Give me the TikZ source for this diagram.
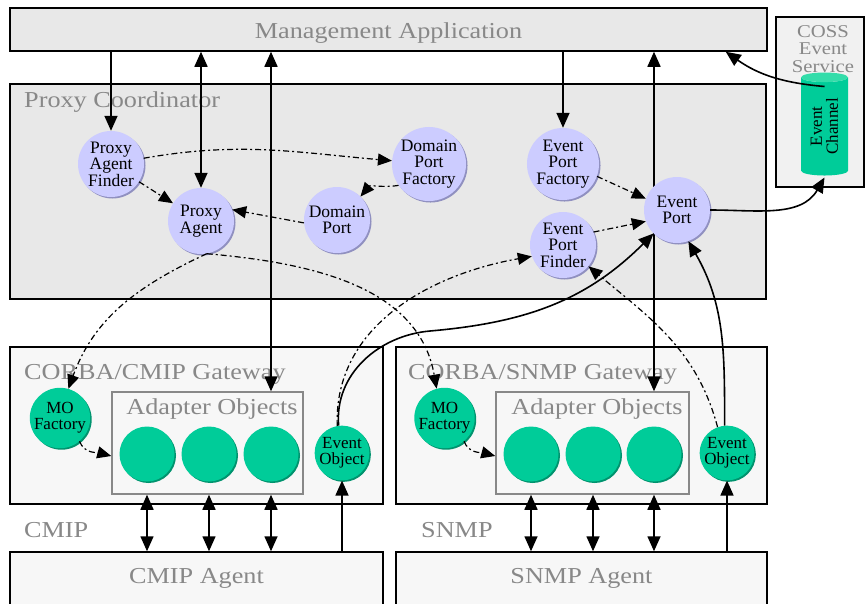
\documentclass[tikz,border=0pt]{standalone}
\usepackage{fontspec}
\setmainfont{Liberation Serif}
\newfontfamily\widefont[FakeStretch=1.15]{Liberation Serif}
\usetikzlibrary{arrows.meta,shapes.geometric,shadows}

\definecolor{objlav}{HTML}{CCCCFF}
\definecolor{objlavdark}{HTML}{9090C0}
\definecolor{mogreen}{HTML}{00CC99}
\definecolor{mogreendark}{HTML}{00936E}
\definecolor{mogreenlight}{HTML}{33DDAA}
\definecolor{panelgrey}{HTML}{E8E8E8}
\definecolor{panellight}{HTML}{F7F7F7}
\definecolor{labelgrey}{HTML}{888888}

\begin{document}
\begin{tikzpicture}[x=1pt,y=1pt,
  lavobj/.style={circle,fill=objlav,minimum size=66,inner sep=0,align=center,
    font=\fontsize{17.5}{16.5}\selectfont,
    drop shadow={shadow xshift=1.5pt,shadow yshift=-1.5pt,fill=objlavdark,opacity=1}},
  greenobj/.style={circle,fill=mogreen,minimum size=54,inner sep=0,align=center,
    font=\fontsize{17}{16}\selectfont,
    drop shadow={shadow xshift=1.5pt,shadow yshift=-1.5pt,fill=mogreendark,opacity=1}},
  panel/.style={draw,line width=1.5,fill=panelgrey,inner sep=0},
  greylabel/.style={text=labelgrey,inner sep=0,font=\widefont\fontsize{22.8}{22}\selectfont},
  callarrow/.style={line width=1.6,-{Triangle[length=15pt,width=13pt]}},
  twoarrow/.style={line width=1.6,{Triangle[length=15pt,width=13pt]}-{Triangle[length=15pt,width=13pt]}},
  lookuparrow/.style={line width=1.2,dash pattern=on 6pt off 3pt on 2pt off 3pt,-{Triangle[length=14pt,width=12pt]}}]

\useasboundingbox (0,0) rectangle (865,-603);

%Application and coordinator
\node[panel,minimum width=757,minimum height=43] (mgmt) at (388.5,-29.5) {};
\node[greylabel,anchor=base] at (388.5,-38) {Management Application};
\node[panel,minimum width=756,minimum height=215] (pcoord) at (388,-191.5) {};
\node[greylabel,anchor=base west] at (24,-107) {Proxy Coordinator};

%COSS side
\node[panel,fill=panelgrey!60,minimum width=88,minimum height=170] (coss) at (820,-102) {};
\node[greylabel,font=\widefont\fontsize{18}{17.5}\selectfont,align=center,anchor=north] at (823,-25) {COSS\\Event\\Service};
\node[cylinder,rotate=90,minimum width=47,minimum height=103,aspect=0.35,inner sep=0,
  cylinder uses custom fill,cylinder end fill=mogreenlight,cylinder body fill=mogreen,
  align=center,font=\fontsize{17}{16}\selectfont] (chan) at (824.5,-126.5) {Event\\Channel};

%Gateways
\node[panel,fill=panellight,minimum width=373,minimum height=157] (cmipgw) at (196.5,-425.5) {};
\node[greylabel,anchor=base west] at (24,-379) {CORBA/CMIP Gateway};
\node[panel,fill=panellight,draw=labelgrey,minimum width=191,minimum height=102] (cmipad) at (207.5,-443) {};
\node[greylabel,anchor=base] at (212,-414) {Adapter Objects};

\node[panel,fill=panellight,minimum width=371,minimum height=157] (snmpgw) at (581.5,-425.5) {};
\node[greylabel,anchor=base west] at (408,-379) {CORBA/SNMP Gateway};
\node[panel,fill=panellight,draw=labelgrey,minimum width=193,minimum height=102] (snmpad) at (592.5,-443) {};
\node[greylabel,anchor=base] at (597,-414) {Adapter Objects};

%Agents
\node[greylabel,anchor=base west] at (24,-537) {CMIP};
\node[greylabel,anchor=base west] at (421,-537) {SNMP};
\node[panel,fill=panellight,minimum width=373,minimum height=70] (cmipag) at (196.5,-587) {};
\node[greylabel,anchor=base] at (196.5,-583) {CMIP Agent};
\node[panel,fill=panellight,minimum width=371,minimum height=70] (snmpag) at (581.5,-587) {};
\node[greylabel,anchor=base] at (581.5,-583) {SNMP Agent};

%Managed objects
\node[greenobj] (cmipmo) at (60,-418) {MO\\Factory};
\foreach \x [count=\i] in {147,209,271}
  \node[greenobj,minimum size=55] (cmipa\i) at (\x,-454) {};
\node[greenobj] (cmipev) at (342,-453) {Event\\Object};

\node[greenobj] (snmpmo) at (444.5,-418) {MO\\Factory};
\foreach \x [count=\i] in {531,593,654}
  \node[greenobj,minimum size=55] (snmpa\i) at (\x,-454) {};
\node[greenobj] (snmpev) at (727,-453) {Event\\Object};

\draw[twoarrow] (mgmt.south -| cmipa3) -- (cmipad.north -| cmipa3);
\draw[twoarrow] (mgmt.south -| snmpa3) -- (snmpad.north -| snmpa3);

%Coordinator objects
\node[lavobj] (finder) at (111,-164) {Proxy\\Agent\\Finder};
\node[lavobj] (agent) at (201,-221) {Proxy\\Agent};
\node[lavobj] (dport) at (337,-220) {Domain\\Port};
\node[lavobj] (dpfac) at (429,-164) {Domain\\Port\\Factory};
\node[lavobj] (epfac) at (563,-164) {Event\\Port\\Factory};
\node[lavobj] (epfind) at (563,-245) {Event\\Port\\Finder};
\node[lavobj] (eport) at (677,-210) {Event\\Port};

\draw[callarrow] (mgmt.south -| finder) -- (finder);
\draw[twoarrow] (mgmt.south -| agent) -- (agent);
\draw[callarrow] (mgmt.south -| epfac) -- (epfac);

\draw[callarrow] (eport.east) to[out=0,in=240] ([yshift=-51pt]chan.center);
\draw[callarrow] ([yshift=40pt]chan.center) to[out=175,in=-35] ([xshift=-42pt]mgmt.south east);

%Lookups
\draw[lookuparrow] (finder) to[out=10,in=175] (dpfac);
\draw[lookuparrow] (finder) -- (agent);
\draw[lookuparrow] (dport.185) -- (agent.20);
\draw[lookuparrow] (dpfac.215) to[out=190,in=50] (dport.45);
\draw[lookuparrow] (epfac.-20) -- (eport.160);
\draw[lookuparrow] (epfind.23) -- (eport.200);
\draw[lookuparrow] (agent.-80) to[out=205,in=70] (cmipmo.74);
\draw[lookuparrow] (agent.-80) to[out=-5,in=100] (snmpmo.105);
\draw[lookuparrow] (cmipev.100) to[out=92,in=190] (epfind.200);
\draw[lookuparrow] (snmpev.110) to[out=105,in=-40] (epfind.-40);
\draw[lookuparrow] (cmipmo.-50) to[out=-70,in=165] ([yshift=-13pt]cmipad.west);
\draw[lookuparrow] (snmpmo.-50) to[out=-70,in=165] ([yshift=-13pt]snmpad.west);

%Events
\coordinate (midbend) at (430,-331);
\draw[callarrow] (cmipev.97) to[out=95,in=185] (midbend) to[out=5,in=225] (eport.225);
\draw[callarrow] (snmpev.95) to[out=90,in=-60] (eport.-70);

%Agent links
\foreach \i in {1,2,3} {
  \draw[twoarrow] (cmipa\i |- cmipad.south) -- (cmipa\i |- cmipag.north);
  \draw[twoarrow] (snmpa\i |- snmpad.south) -- (snmpa\i |- snmpag.north);
}
\draw[callarrow] (cmipev |- cmipag.north) -- (cmipev);
\draw[callarrow] (snmpev |- snmpag.north) -- (snmpev);

\end{tikzpicture}
\end{document}
